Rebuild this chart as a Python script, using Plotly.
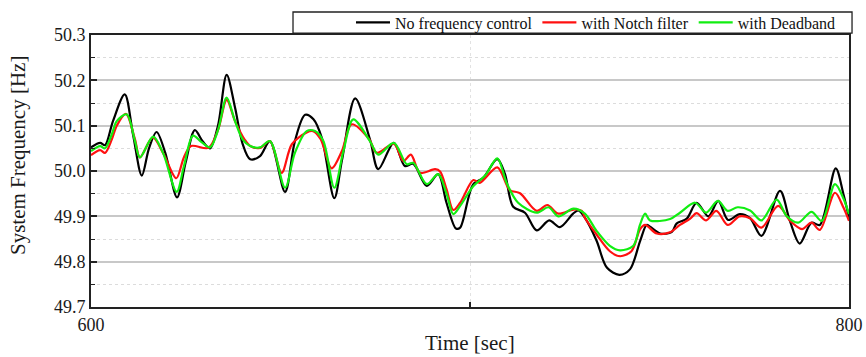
import plotly.graph_objects as go

# ---------------- data ----------------
t_black = [600.0, 602.4, 603.7, 605.8, 608.9, 611.1, 613.4, 615.3, 617.3, 619.6, 622.7, 625.0,
           627.4, 629.5, 631.4, 633.5, 635.8, 638.0, 640.0, 642.0, 644.6, 647.2, 651.2, 653.8,
           656.5, 658.7, 660.9, 664.2, 666.2, 669.7, 673.6, 675.8, 679.9, 682.8, 685.0, 688.6,
           691.6, 693.8, 696.3, 697.4, 700.8, 703.5, 707.2, 709.2, 711.4, 714.5, 717.6, 720.9,
           723.7, 727.2, 728.6, 730.3, 733.4, 736.1, 739.4, 742.2, 744.9, 746.6, 747.5, 750.2,
           753.2, 754.5, 757.2, 759.8, 762.9, 765.5, 768.1, 771.2, 773.9, 776.9, 781.8, 784.4,
           787.0, 790.1, 792.3, 796.5, 798.5, 800.0]
f_black = [50.052, 50.062, 50.057, 50.11, 50.169, 50.08, 49.99, 50.05, 50.086, 50.04, 49.942, 50.02,
           50.09, 50.065, 50.05, 50.1, 50.212, 50.14, 50.06, 50.026, 50.033, 50.066, 49.954, 50.066,
           50.124, 50.114, 50.073, 49.94, 50.023, 50.16, 50.07, 50.004, 50.062, 50.011, 50.016, 49.967,
           49.993, 49.93, 49.873, 49.875, 49.97, 49.985, 50.026, 49.994, 49.921, 49.908, 49.869, 49.891,
           49.876, 49.906, 49.913, 49.897, 49.846, 49.787, 49.771, 49.783, 49.846, 49.881, 49.877, 49.862,
           49.865, 49.884, 49.895, 49.93, 49.9, 49.934, 49.892, 49.905, 49.896, 49.857, 49.956, 49.89,
           49.84, 49.886, 49.881, 50.006, 49.95, 49.897]

t_notch = [600.0, 602.4, 603.7, 605.5, 606.8, 609.2, 611.6, 612.9, 616.3, 619.0, 622.5, 624.5,
           626.4, 631.0, 633.5, 635.8, 638.0, 640.5, 642.0, 644.6, 647.2, 650.3, 653.0, 656.9,
           658.6, 660.6, 663.5, 666.2, 668.8, 673.4, 675.4, 679.9, 682.4, 684.4, 686.8, 690.8,
           692.1, 693.8, 695.6, 697.4, 700.9, 702.6, 707.2, 710.5, 713.2, 717.6, 720.4, 723.3,
           727.3, 729.5, 730.3, 733.4, 736.9, 739.6, 742.6, 744.9, 746.2, 749.3, 752.8, 755.4,
           758.1, 759.8, 762.3, 765.0, 768.0, 771.1, 773.9, 776.9, 781.3, 784.5, 787.6, 790.1,
           792.3, 796.3, 798.5, 800.0]
f_notch = [50.035, 50.046, 50.04, 50.07, 50.1, 50.126, 50.07, 50.03, 50.074, 50.04, 49.984, 50.03,
           50.055, 50.051, 50.09, 50.157, 50.11, 50.07, 50.055, 50.051, 50.066, 49.996, 50.059, 50.085,
           50.088, 50.07, 50.006, 50.044, 50.103, 50.07, 50.04, 50.06, 50.022, 50.036, 49.996, 50.004,
           49.999, 49.96, 49.914, 49.93, 49.98, 49.974, 50.008, 49.958, 49.951, 49.912, 49.925, 49.906,
           49.915, 49.912, 49.897, 49.86, 49.823, 49.812, 49.823, 49.872, 49.881, 49.862, 49.865, 49.881,
           49.895, 49.907, 49.891, 49.912, 49.881, 49.9, 49.896, 49.875, 49.923, 49.89, 49.872, 49.886,
           49.87, 49.952, 49.92, 49.89]

t_dead = [600.0, 602.4, 603.7, 605.5, 606.8, 609.4, 611.6, 612.9, 616.4, 619.0, 622.6, 624.5,
          626.9, 629.0, 631.4, 633.5, 635.8, 638.0, 640.0, 642.0, 644.6, 647.2, 651.2, 653.8,
          656.9, 659.1, 661.3, 664.2, 666.6, 669.2, 673.6, 675.8, 679.9, 683.3, 685.0, 688.6,
          691.6, 693.8, 695.6, 697.4, 700.9, 704.0, 707.2, 709.7, 712.7, 717.6, 720.7, 723.3,
          727.3, 730.3, 733.4, 736.9, 739.6, 743.1, 744.8, 746.2, 747.5, 752.8, 755.4, 759.4,
          762.3, 765.4, 768.0, 770.6, 773.9, 776.9, 780.9, 783.6, 786.6, 790.1, 792.8, 796.3,
          798.5, 800.0]
f_dead = [50.044, 50.055, 50.05, 50.081, 50.11, 50.125, 50.066, 50.03, 50.076, 50.04, 49.954, 50.01,
          50.078, 50.065, 50.052, 50.09, 50.162, 50.11, 50.07, 50.055, 50.052, 50.066, 49.963, 50.04,
          50.088, 50.088, 50.066, 49.963, 50.044, 50.114, 50.066, 50.036, 50.062, 50.015, 50.018, 49.971,
          49.993, 49.95, 49.905, 49.923, 49.967, 49.99, 50.028, 49.973, 49.93, 49.908, 49.92, 49.9,
          49.917, 49.906, 49.868, 49.835, 49.825, 49.835, 49.88, 49.906, 49.891, 49.894, 49.908, 49.93,
          49.908, 49.934, 49.912, 49.92, 49.913, 49.891, 49.937, 49.9, 49.886, 49.91, 49.89, 49.971,
          49.94, 49.905]

series_names = ["No frequency control", "with Notch filter", "with Deadband"]
series_colors = ["#000000", "#ff1010", "#11ee11"]

x_tickvals = [600, 700, 800]
x_ticktext = ["600", "", "800"]
y_tickvals = [49.7, 49.8, 49.9, 50.0, 50.1, 50.2, 50.3]
y_ticktext = ["49.7", "49.8", "49.9", "50.0", "50.1", "50.2", "50.3"]

# ---------------- figure ----------------
FONT = "Liberation Serif, Times New Roman, serif"
fig = go.Figure()
for t, f, name, col in zip([t_black, t_notch, t_dead], [f_black, f_notch, f_dead],
                           series_names, series_colors):
    fig.add_trace(go.Scatter(x=t, y=f, mode="lines", name=name,
                             line=dict(color=col, width=2.2, shape="spline", smoothing=0.9)))

fig.update_layout(
    width=866, height=357,
    margin=dict(l=91, r=17, t=35, b=50, autoexpand=False),
    paper_bgcolor="white", plot_bgcolor="white",
    font=dict(family=FONT, color="#1a1a1a"),
    showlegend=True,
    legend=dict(orientation="h", x=0.343, xanchor="left", y=1.046, yanchor="middle",
                font=dict(family=FONT, size=16, color="#111"),
                bgcolor="rgba(0,0,0,0)", borderwidth=0, itemwidth=34,
                tracegroupgap=0),
    shapes=[dict(type="rect", xref="paper", yref="paper",
                 x0=0.2665, x1=1.004, y0=1.007, y1=1.0846,
                 line=dict(color="#222", width=1.3), fillcolor="rgba(0,0,0,0)")],
    annotations=[
        dict(text="System Frequency [Hz]", xref="paper", yref="paper", x=-0.0963, y=0.555,
             textangle=-90, showarrow=False, font=dict(family=FONT, size=21, color="#1a1a1a"),
             xanchor="center", yanchor="middle"),
        dict(text="Time [sec]", xref="paper", yref="paper", x=0.5, y=-0.132,
             showarrow=False, font=dict(family=FONT, size=21, color="#1a1a1a"),
             xanchor="center", yanchor="middle"),
    ],
)

fig.update_xaxes(range=[600, 800], tickvals=x_tickvals, ticktext=x_ticktext,
                 ticks="inside", ticklen=5, tickwidth=1.5, tickcolor="#222",
                 showline=True, linecolor="#222", linewidth=1.8, mirror=True,
                 showgrid=True, gridcolor="#e2e2e2", gridwidth=1, griddash="dot",
                 zeroline=False, tickfont=dict(family=FONT, size=18, color="#1a1a1a"))
fig.update_yaxes(range=[49.7, 50.3], tickvals=y_tickvals, ticktext=y_ticktext,
                 ticks="inside", ticklen=6, tickwidth=1.5, tickcolor="#222",
                 showline=True, linecolor="#222", linewidth=1.8, mirror=True,
                 showgrid=True, gridcolor="#c8c8c8", gridwidth=1.5,
                 minor=dict(dtick=0.05, tick0=49.7, ticks="inside", ticklen=4, tickwidth=1.2,
                            tickcolor="#222", showgrid=True, gridcolor="#dcdcdc",
                            griddash="dot", gridwidth=1),
                 zeroline=False, tickfont=dict(family=FONT, size=18, color="#1a1a1a"))

fig.write_html("out.html")
